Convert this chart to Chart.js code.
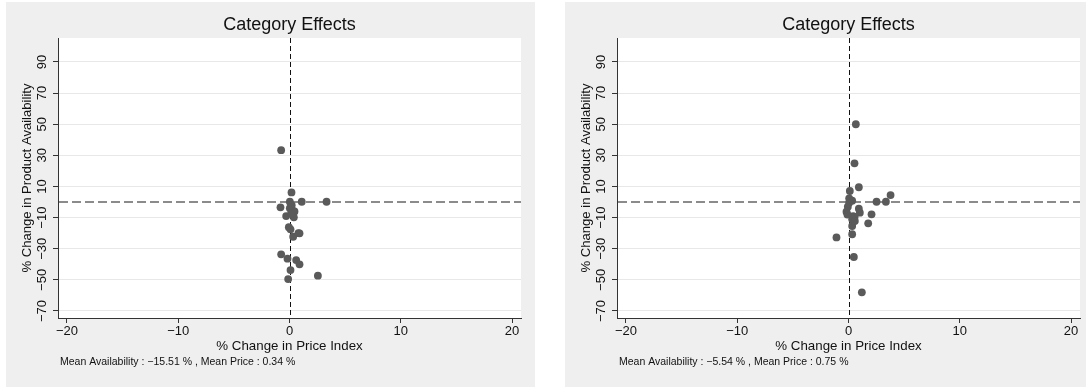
<!DOCTYPE html>
<html><head><meta charset="utf-8">
<script src="https://cdn.jsdelivr.net/npm/chart.js@4.4.1/dist/chart.umd.min.js"></script>
<style>
html,body{margin:0;padding:0;background:#fff;width:1086px;height:390px;overflow:hidden}
canvas{position:absolute}
#c1{left:6px;top:2px}
#c2{left:565px;top:2px}
</style></head><body>
<canvas id="c1" width="529" height="385"></canvas>
<canvas id="c2" width="521" height="385"></canvas>
<script>
const chartTitle = 'Category Effects';
const xAxisTitle = '% Change in Price Index';
const yAxisTitle = '% Change in Product Availability';
const xTicks = [-20, -10, 0, 10, 20];
const xTickLabels = ['\u221220', '\u221210', '0', '10', '20'];
const yTicks = [-70, -50, -30, -10, 10, 30, 50, 70, 90];
const yTickLabels = ['\u221270', '\u221250', '\u221230', '\u221210', '10', '30', '50', '70', '90'];

const leftPrice = [-0.75, 0.18, 0.03, 1.1, 3.33, -0.81, 0.03, 0.3, 0.45, -0.3, 0.39, 0.15, -0.06, 0.09, 0.9, 0.33, -0.75, -0.18, 0.6, 0.9, 0.09, 2.55, -0.12, 0.2, 0.8];
const leftAvail = [33.3, 6.2, 0.2, 0.2, 0.2, -3.4, -4, -5.5, -6, -9, -9.8, -7.3, -16.2, -17.5, -20.1, -22.3, -33.6, -36.4, -37.3, -40, -43.7, -47.3, -49.5, -2, -20];
const leftNote = 'Mean Availability : \u221215.51 % , Mean Price : 0.34 %';

const rightPrice = [0.66, 0.54, 0.93, 0.12, 3.78, 0.06, 2.52, 3.36, 0.33, 0.06, -0.06, 0.93, -0.18, 1.02, 2.07, 0.42, 0.33, 1.77, 0.33, -1.08, 0.33, 0.48, 1.2, -0.1, 0.55, 0.57];
const rightAvail = [50, 24.9, 9.5, 7.1, 4.5, 2.4, 0.2, 0.2, 0.9, -0.4, -3, -4.3, -6.2, -6.8, -7.9, -9, -11.1, -13.7, -15.4, -22.7, -20.7, -35.3, -58, -8, -9.6, -12.2];
const rightNote = 'Mean Availability : \u22125.54 % , Mean Price : 0.75 %';

const FONT = '"Liberation Sans", Arial, Helvetica, sans-serif';

function makeChart(id, price, avail, note) {
  const canvas = document.getElementById(id);
  const W = canvas.width;
  const points = price.map((x, i) => ({x: x, y: avail[i]}));
  const decor = {
    id: 'decor',
    beforeDraw(chart) {
      const ctx = chart.ctx, a = chart.chartArea;
      ctx.save();
      ctx.fillStyle = '#efefef';
      ctx.fillRect(0, 0, chart.width, chart.height);
      ctx.fillStyle = '#ffffff';
      ctx.fillRect(a.left, a.top, a.right - a.left, a.bottom - a.top);
      ctx.restore();
    },
    beforeDatasetsDraw(chart) {
      const ctx = chart.ctx, a = chart.chartArea;
      const xs = chart.scales.x, ys = chart.scales.y;
      const y0 = Math.round(ys.getPixelForValue(0));
      const x0 = Math.round(xs.getPixelForValue(0)) + 0.5;
      ctx.save();
      ctx.strokeStyle = '#666666';
      ctx.lineWidth = 1.6;
      ctx.setLineDash([9, 4]);
      ctx.beginPath(); ctx.moveTo(a.left + 1, y0); ctx.lineTo(a.right, y0); ctx.stroke();
      ctx.strokeStyle = '#111111';
      ctx.lineWidth = 1;
      ctx.setLineDash([5, 3]);
      ctx.beginPath(); ctx.moveTo(x0, a.top); ctx.lineTo(x0, a.bottom); ctx.stroke();
      ctx.restore();
    },
    afterDraw(chart) {
      const ctx = chart.ctx, a = chart.chartArea;
      const ys = chart.scales.y;
      const cx = (a.left + a.right) / 2;
      ctx.save();
      ctx.fillStyle = '#111111';
      ctx.textAlign = 'center';
      ctx.textBaseline = 'middle';
      ctx.font = '18px ' + FONT;
      ctx.fillText(chartTitle, cx, 23);
      ctx.font = '13.3px ' + FONT;
      ctx.fillText(xAxisTitle, cx, 344.5);
      ctx.font = '13px ' + FONT;
      yTicks.forEach((v, i) => {
        const py = ys.getPixelForValue(v);
        ctx.save();
        ctx.translate(36, py);
        ctx.rotate(-Math.PI / 2);
        ctx.fillText(yTickLabels[i], 0, 0);
        ctx.restore();
      });
      ctx.save();
      ctx.translate(21, (a.top + a.bottom) / 2);
      ctx.rotate(-Math.PI / 2);
      ctx.font = '13.1px ' + FONT;
      ctx.fillText(yAxisTitle, 0, 0);
      ctx.restore();
      ctx.textAlign = 'left';
      ctx.font = '10.5px ' + FONT;
      ctx.fillText(note, 54, 360.5);
      ctx.restore();
    }
  };
  return new Chart(canvas, {
    type: 'scatter',
    data: {
      datasets: [{
        data: points,
        backgroundColor: '#5a5a5a',
        borderWidth: 0,
        pointRadius: 3.9,
        pointHoverRadius: 3.9
      }]
    },
    options: {
      responsive: false,
      animation: false,
      devicePixelRatio: 1,
      layout: {padding: {left: 0, right: W - 515, top: 36, bottom: 29}},
      plugins: {legend: {display: false}, tooltip: {enabled: false}, title: {display: false}},
      scales: {
        x: {
          type: 'linear', min: -20.8, max: 20.8,
          afterBuildTicks: s => { s.ticks = xTicks.map(v => ({value: v})); },
          afterFit: s => { s.height = 40; },
          ticks: {
            color: '#111111', font: {size: 13, family: FONT}, padding: 1,
            maxRotation: 0, minRotation: 0, autoSkip: false,
            callback: (v) => xTickLabels[xTicks.indexOf(v)]
          },
          grid: {display: true, drawOnChartArea: false, drawTicks: true, tickLength: 5, tickColor: '#333333', tickWidth: 1},
          border: {display: true, color: '#333333', width: 1},
          title: {display: false}
        },
        y: {
          type: 'linear', min: -74.5, max: 105.4,
          afterBuildTicks: s => { s.ticks = yTicks.map(v => ({value: v})); },
          afterFit: s => { s.width = 52; },
          ticks: {display: false},
          grid: {display: true, color: '#e8e8e8', lineWidth: 1, drawTicks: true, tickLength: 5, tickColor: '#333333', tickWidth: 1},
          border: {display: true, color: '#333333', width: 1},
          title: {display: false}
        }
      }
    },
    plugins: [decor]
  });
}

makeChart('c1', leftPrice, leftAvail, leftNote);
makeChart('c2', rightPrice, rightAvail, rightNote);
</script>
</body></html>
